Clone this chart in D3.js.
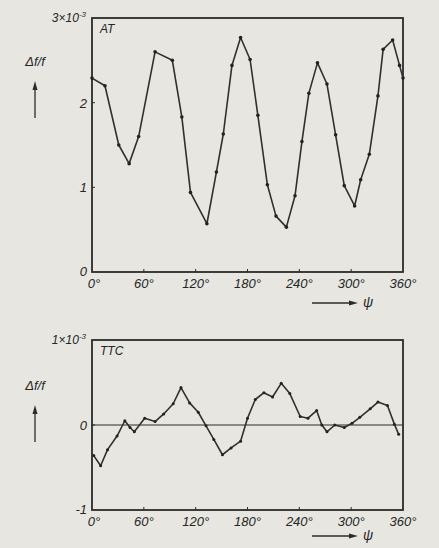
<!DOCTYPE html>
<html>
<head>
<meta charset="utf-8">
<script src="https://cdn.jsdelivr.net/npm/d3@7"></script>
<style>
  body { margin: 0; background: #e7e6e1; }
  svg { display: block; }
  text { font-family: "Liberation Sans", Arial, sans-serif; font-style: italic; fill: #262626; }
</style>
</head>
<body>
<svg width="439" height="548"></svg>
<script>
// AT curve, angle in degrees, value in units of 1e-3
var atAngle = [0, 15, 31, 43, 54, 73, 93, 104, 114, 133, 144, 152, 162, 172, 183, 192, 203, 213, 225, 235,
               243, 251, 261, 272, 282, 292, 304, 311, 321, 331, 337, 348, 356, 360];
var atValue = [2.29, 2.20, 1.50, 1.28, 1.60, 2.60, 2.50, 1.83, 0.94, 0.57, 1.18, 1.63, 2.44, 2.77, 2.51, 1.85, 1.03, 0.66, 0.53, 0.90,
               1.54, 2.11, 2.47, 2.22, 1.62, 1.02, 0.78, 1.09, 1.39, 2.08, 2.63, 2.74, 2.44, 2.29];

// TTC curve
var ttcAngle = [2, 10, 18, 29, 38, 44, 49, 61, 73, 83, 94, 103, 113, 123, 132, 141, 151, 161, 172, 180,
                189, 199, 209, 219, 229, 241, 250, 260, 266, 272, 281, 292, 301, 310, 322, 331, 342, 350, 355];
var ttcValue = [-0.36, -0.48, -0.29, -0.13, 0.05, -0.03, -0.08, 0.08, 0.04, 0.13, 0.25, 0.44, 0.26, 0.15, -0.01, -0.17, -0.35, -0.27, -0.19, 0.08,
                0.30, 0.38, 0.33, 0.49, 0.37, 0.10, 0.08, 0.17, 0.00, -0.08, 0.00, -0.03, 0.02, 0.09, 0.19, 0.27, 0.23, 0.01, -0.11];

var xTicks = [0, 60, 120, 180, 240, 300, 360];
var atTicks = [0, 1, 2];
var ttcTicks = [0, -1];

var svg = d3.select("svg");
var ink = "#2b2b2b";

var x = d3.scaleLinear().domain([0, 360]).range([92, 403]);

function panel(opt) {
    var y = opt.y;
    var g = svg.append("g");
    var top = y(opt.yDomain[1]), bottom = y(opt.yDomain[0]);

    // zero line (TTC only)
    if (opt.zeroLine) {
        g.append("line")
            .attr("x1", x(0)).attr("x2", x(360))
            .attr("y1", y(0)).attr("y2", y(0))
            .attr("stroke", ink).attr("stroke-width", 1.1);
    }

    // frame
    g.append("rect")
        .attr("x", x(0)).attr("y", top)
        .attr("width", x(360) - x(0)).attr("height", bottom - top)
        .attr("fill", "none").attr("stroke", ink).attr("stroke-width", 1.8);

    // small inward ticks
    g.selectAll(".xt").data(xTicks.slice(1, -1)).enter().append("line")
        .attr("x1", d => x(d)).attr("x2", d => x(d))
        .attr("y1", bottom).attr("y2", bottom - 3)
        .attr("stroke", ink).attr("stroke-width", 1);
    g.selectAll(".yt").data(opt.ticks.filter(d => d !== opt.yDomain[0])).enter().append("line")
        .attr("x1", x(0)).attr("x2", x(0) + 3)
        .attr("y1", d => y(d)).attr("y2", d => y(d))
        .attr("stroke", ink).attr("stroke-width", 1);

    // x labels
    g.selectAll(".xl").data(xTicks).enter().append("text")
        .attr("x", d => x(d) + (d === 0 ? 2 : 0))
        .attr("y", bottom + 16)
        .attr("text-anchor", "middle")
        .attr("font-size", 13)
        .text(d => d + "°");

    // y labels
    g.selectAll(".yl").data(opt.ticks).enter().append("text")
        .attr("x", x(0) - 5)
        .attr("y", d => y(d) + (d === opt.yDomain[0] ? 4 : 5))
        .attr("text-anchor", "end")
        .attr("font-size", 13)
        .text(d => d);

    // top value with exponent
    var tl = g.append("text")
        .attr("x", x(0) - 6).attr("y", top + 4)
        .attr("text-anchor", "end")
        .attr("font-size", 12);
    tl.append("tspan").text(opt.yDomain[1] + "×10");
    tl.append("tspan").attr("font-size", 8).attr("dy", -5).text("-3");

    // panel name
    g.append("text")
        .attr("x", x(0) + 8).attr("y", top + 15)
        .attr("font-size", 12)
        .text(opt.name);

    // y quantity with arrow
    g.append("text")
        .attr("x", 35).attr("y", opt.labelY)
        .attr("text-anchor", "middle")
        .attr("font-size", 13)
        .text("Δf/f");
    g.append("line")
        .attr("x1", 35).attr("x2", 35)
        .attr("y1", opt.labelY + 52).attr("y2", opt.labelY + 22)
        .attr("stroke", ink).attr("stroke-width", 1.3);
    g.append("path")
        .attr("d", d3.line()([[35, opt.labelY + 15], [32.5, opt.labelY + 24], [37.5, opt.labelY + 24]]))
        .attr("fill", ink);

    // psi arrow
    var ay = bottom + opt.psiDy;
    g.append("line")
        .attr("x1", 312).attr("x2", 350)
        .attr("y1", ay).attr("y2", ay)
        .attr("stroke", ink).attr("stroke-width", 1.3);
    g.append("path")
        .attr("d", d3.line()([[358, ay], [349, ay - 2.5], [349, ay + 2.5]]))
        .attr("fill", ink);
    g.append("text")
        .attr("x", 368).attr("y", ay + 4)
        .attr("text-anchor", "middle")
        .attr("font-size", 14)
        .text("ψ");

    // curve
    var pts = opt.angle.map((a, i) => [x(a), y(opt.value[i])]);
    g.append("path")
        .attr("d", d3.line()(pts))
        .attr("fill", "none")
        .attr("stroke", "#303030")
        .attr("stroke-width", 1.6)
        .attr("stroke-linejoin", "round");
    g.selectAll(".pt").data(pts).enter().append("circle")
        .attr("cx", d => d[0]).attr("cy", d => d[1])
        .attr("r", opt.dot)
        .attr("fill", "#222");
}

panel({
    name: "AT",
    y: d3.scaleLinear().domain([0, 3]).range([272, 18]),
    yDomain: [0, 3],
    ticks: atTicks,
    angle: atAngle,
    value: atValue,
    labelY: 66,
    psiDy: 31,
    dot: 1.8,
    zeroLine: false
});

panel({
    name: "TTC",
    y: d3.scaleLinear().domain([-1, 1]).range([510, 340]),
    yDomain: [-1, 1],
    ticks: ttcTicks,
    angle: ttcAngle,
    value: ttcValue,
    labelY: 390,
    psiDy: 26,
    dot: 1.5,
    zeroLine: true
});
</script>
</body>
</html>
